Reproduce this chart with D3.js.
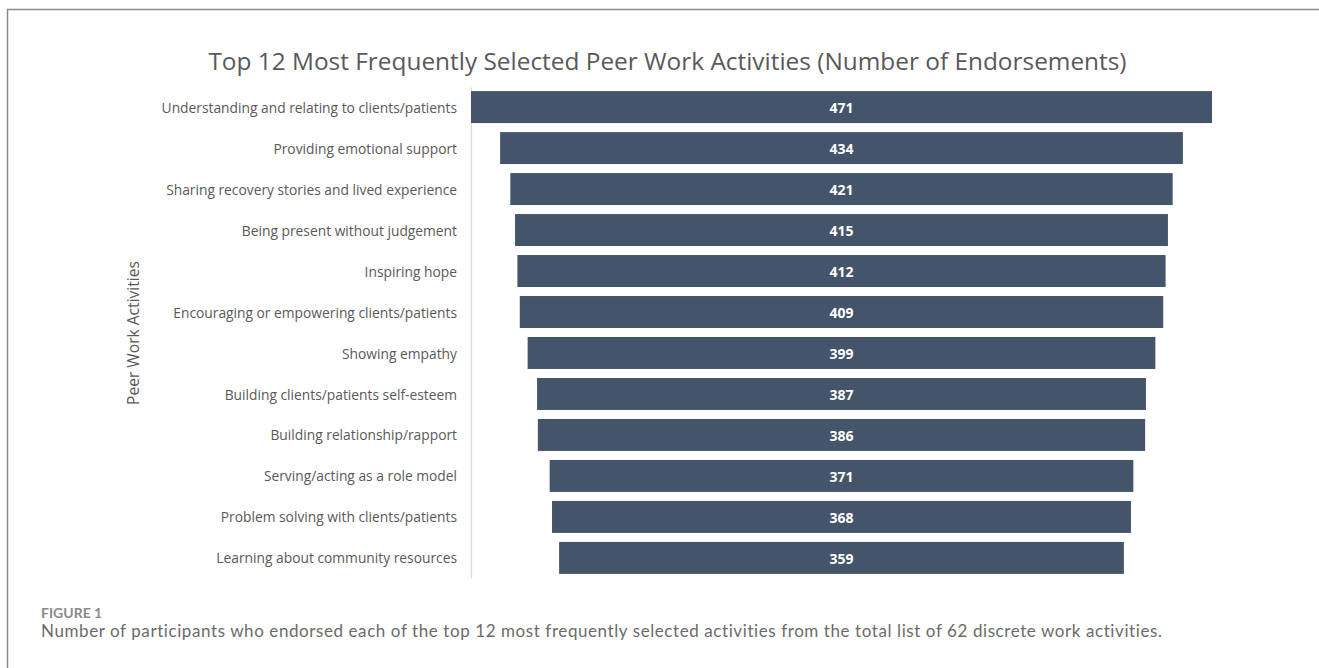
<!DOCTYPE html>
<html>
<head>
<meta charset="utf-8">
<script src="https://cdn.jsdelivr.net/npm/d3@7"></script>
<style>
  body { margin: 0; background: #fff; }
  svg { display: block; }
</style>
</head>
<body>
<svg id="chart" width="1319" height="668"></svg>
<script>
const activities = [
  "Understanding and relating to clients/patients",
  "Providing emotional support",
  "Sharing recovery stories and lived experience",
  "Being present without judgement",
  "Inspiring hope",
  "Encouraging or empowering clients/patients",
  "Showing empathy",
  "Building clients/patients self-esteem",
  "Building relationship/rapport",
  "Serving/acting as a role model",
  "Problem solving with clients/patients",
  "Learning about community resources"
];
const endorsements = [471, 434, 421, 415, 412, 409, 399, 387, 386, 371, 368, 359];

const chartTitle = "Top 12 Most Frequently Selected Peer Work Activities (Number of Endorsements)";
const yTitle = "Peer Work Activities";
const figLabel = "FIGURE 1";
const figCaption = "Number of participants who endorsed each of the top 12 most frequently selected activities from the total list of 62 discrete work activities.";

const svg = d3.select("#chart");
const textColor = "#595959";
const barColor = "#44546a";

// frame of the figure box
svg.append("path")
  .attr("d", "M7.5,668 V9.5 H1319")
  .style("fill", "none")
  .style("stroke", "#8c8c8c")
  .style("stroke-width", 1.5);

const axisX = 471;
const centerX = 841.5;
const plotTop = 87, plotBottom = 578;

const y = d3.scaleBand()
  .domain(activities)
  .range([plotTop, plotBottom])
  .paddingInner(0.22)
  .paddingOuter(0.1);

const w = d3.scaleLinear()
  .domain([0, d3.max(endorsements)])
  .range([0, 741]);

const data = activities.map((a, i) => ({ name: a, value: endorsements[i] }));

svg.append("text")
  .attr("x", 667.5).attr("y", 70)
  .attr("text-anchor", "middle")
  .style("font-family", "'Open Sans', sans-serif")
  .style("font-size", "24.4px")
  .style("fill", textColor)
  .text(chartTitle);

// category axis: line plus right-aligned labels
const yAxis = d3.axisLeft(y).tickSize(0).tickPadding(14);
const gy = svg.append("g")
  .attr("transform", `translate(${axisX},0)`)
  .call(yAxis);
gy.select(".domain").style("stroke", "#d9d9d9").style("stroke-width", 1.2);
gy.selectAll("text")
  .attr("dy", "0.4em")
  .style("font-family", "'Open Sans', sans-serif")
  .style("font-size", "13.8px")
  .style("fill", textColor);

svg.append("text")
  .attr("transform", "translate(139,333) rotate(-90)")
  .attr("text-anchor", "middle")
  .style("font-family", "'Open Sans', sans-serif")
  .style("font-size", "15.6px")
  .style("fill", textColor)
  .text(yTitle);

const bars = svg.append("g");
bars.selectAll("rect")
  .data(data)
  .join("rect")
  .attr("x", d => centerX - w(d.value) / 2)
  .attr("y", d => y(d.name))
  .attr("width", d => w(d.value))
  .attr("height", y.bandwidth())
  .style("fill", barColor);

bars.selectAll("text")
  .data(data)
  .join("text")
  .attr("x", centerX)
  .attr("y", d => y(d.name) + y.bandwidth() / 2)
  .attr("dy", "0.4em")
  .attr("text-anchor", "middle")
  .style("font-family", "'Open Sans', sans-serif")
  .style("font-size", "14px")
  .style("font-weight", "bold")
  .style("fill", "#fff")
  .text(d => d.value);

svg.append("text")
  .attr("x", 41).attr("y", 618)
  .style("font-family", "Lato, sans-serif")
  .style("font-size", "14px")
  .style("font-weight", "bold")
  .style("fill", "#8a8a8a")
  .text(figLabel);

const caption = svg.append("text")
  .attr("x", 41).attr("y", 637)
  .style("font-family", "Lato, sans-serif")
  .style("font-size", "17px")
  .style("fill", "#6b6b6b")
  .text(figCaption);
// stretch caption to the reference width
const capLen = caption.node().getComputedTextLength();
caption.style("letter-spacing", ((1123 - capLen) / figCaption.length) + "px");
</script>
</body>
</html>
